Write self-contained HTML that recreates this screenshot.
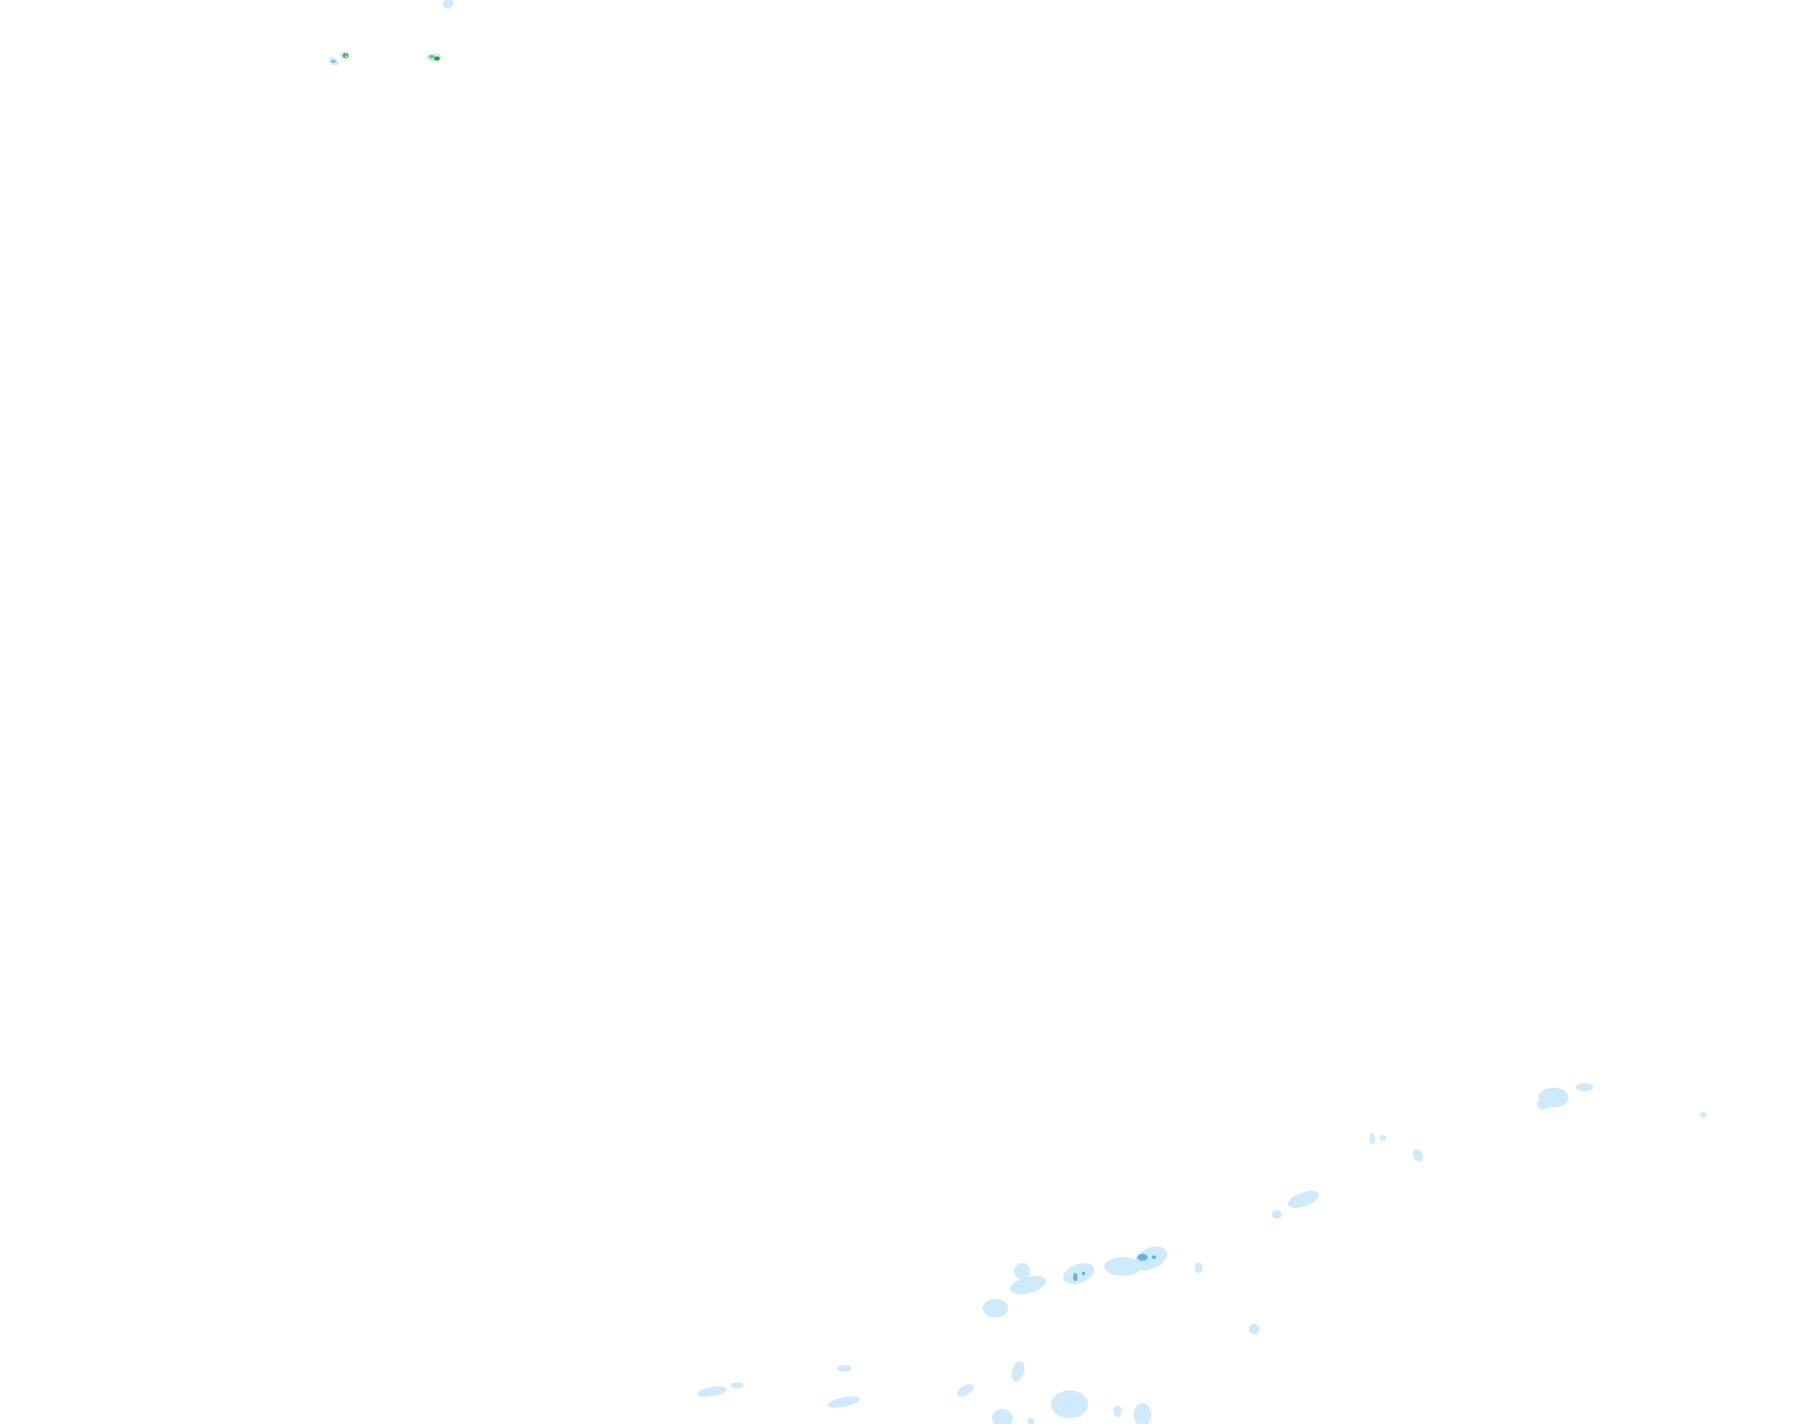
<!DOCTYPE html>
<html><head><meta charset="utf-8"><style>
html,body{margin:0;padding:0;background:#fff;}
svg{display:block;}
</style></head><body>
<svg width="1815" height="1424" viewBox="0 0 1568 1230" preserveAspectRatio="none" xmlns="http://www.w3.org/2000/svg">
<rect width="1568" height="1230" fill="#fff"/>
<g fill="#cdebfd">
<ellipse cx="387" cy="3" rx="4.5" ry="4.5"/>
<ellipse cx="288" cy="53" rx="4.5" ry="3" transform="rotate(35 288 53)"/>
<ellipse cx="298" cy="48" rx="4.5" ry="3.5"/>
<ellipse cx="375" cy="49.5" rx="6.5" ry="3.5"/>
<ellipse cx="1342" cy="948" rx="13" ry="8.5"/>
<ellipse cx="1333" cy="954" rx="5" ry="4.5"/>
<ellipse cx="1369" cy="939" rx="7.5" ry="3.5"/>
<ellipse cx="1471.5" cy="963" rx="3" ry="2.5"/>
<ellipse cx="1185.5" cy="983.5" rx="2.5" ry="5"/>
<ellipse cx="1194.5" cy="983" rx="3" ry="2.5"/>
<ellipse cx="1225" cy="998" rx="4" ry="5.5" transform="rotate(-30 1225 998)"/>
<ellipse cx="1126" cy="1036" rx="14" ry="6" transform="rotate(-20 1126 1036)"/>
<ellipse cx="1103" cy="1049" rx="4.5" ry="3.5"/>
<ellipse cx="1035.5" cy="1095" rx="3.5" ry="4.5"/>
<ellipse cx="970" cy="1094" rx="16" ry="8"/>
<ellipse cx="994" cy="1087" rx="15" ry="9" transform="rotate(-25 994 1087)"/>
<ellipse cx="932" cy="1100" rx="14" ry="8" transform="rotate(-20 932 1100)"/>
<ellipse cx="883" cy="1098" rx="7" ry="7"/>
<ellipse cx="888" cy="1110" rx="16" ry="7" transform="rotate(-15 888 1110)"/>
<ellipse cx="860" cy="1130" rx="11" ry="8"/>
<ellipse cx="1083.5" cy="1148" rx="4.5" ry="4.5"/>
<ellipse cx="879.5" cy="1184.5" rx="5" ry="9" transform="rotate(15 879.5 1184.5)"/>
<ellipse cx="834" cy="1201" rx="8" ry="4" transform="rotate(-30 834 1201)"/>
<ellipse cx="924" cy="1213" rx="16" ry="12"/>
<ellipse cx="866" cy="1225" rx="9" ry="8"/>
<ellipse cx="965.5" cy="1219" rx="3.5" ry="5"/>
<ellipse cx="987" cy="1222" rx="7.5" ry="10"/>
<ellipse cx="890.5" cy="1227.5" rx="3" ry="3"/>
<ellipse cx="615" cy="1202" rx="13" ry="4" transform="rotate(-10 615 1202)"/>
<ellipse cx="637" cy="1196.5" rx="5.5" ry="2.5"/>
<ellipse cx="729" cy="1211" rx="14" ry="4" transform="rotate(-12 729 1211)"/>
<ellipse cx="729.5" cy="1182" rx="6" ry="3"/>
</g>
<ellipse cx="987" cy="1086" rx="4.5" ry="3" fill="#5cb4e8"/>
<ellipse cx="997" cy="1086" rx="2" ry="1.5" fill="#5cb4e8"/>
<ellipse cx="929" cy="1103" rx="2" ry="3.5" fill="#5cb4e8"/>
<ellipse cx="929" cy="1102" rx="1" ry="2" fill="#62d65a"/>
<ellipse cx="936" cy="1100" rx="1.5" ry="1.5" fill="#5cb4e8"/>
<ellipse cx="288" cy="53" rx="2" ry="1" fill="#5cb4e8"/>
<ellipse cx="298.5" cy="48" rx="2.5" ry="2" fill="#3cb040"/>
<ellipse cx="299" cy="48.5" rx="1" ry="0.8" fill="#f0f040"/>
<ellipse cx="373" cy="49" rx="2.5" ry="1.5" fill="#62d65a"/>
<ellipse cx="377.5" cy="50.5" rx="2.5" ry="1.8" fill="#3c9a30"/>
</svg>
</body></html>
